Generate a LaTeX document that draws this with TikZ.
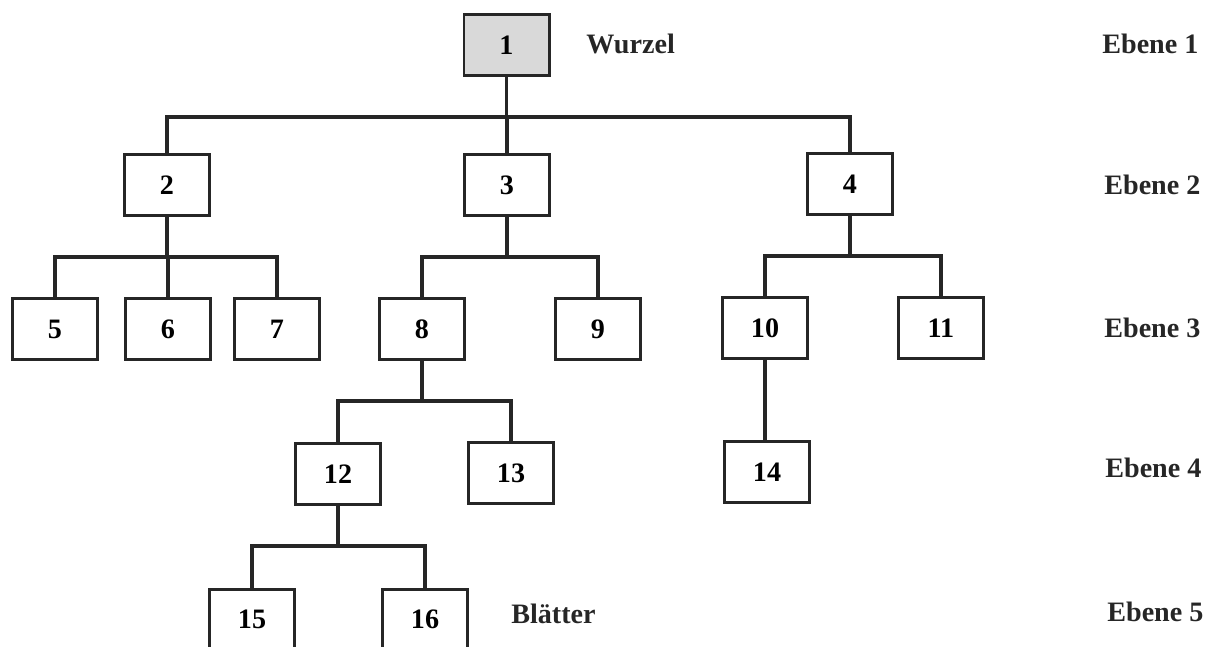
\documentclass[tikz,border=0pt]{standalone}
\usepackage{fontspec}
\setmainfont{Liberation Serif}
\usetikzlibrary{positioning, calc}

\begin{document}
\begin{tikzpicture}[
        treenode/.style={rectangle, draw=black!85, line width=1.7pt, fill=white, minimum width=1.7cm, minimum height=1.22cm, inner sep=0pt, font=\fontsize{16}{19}\selectfont\bfseries},
        rootnode/.style={treenode, fill=black!15},
        link/.style={draw=black!85, line width=1.9pt},
        lbl/.style={anchor=west, inner sep=0pt, font=\fontsize{16}{19}\selectfont\bfseries, text=black!85}
    ]
        \useasboundingbox (0,0) rectangle (24.36,-12.92);
        \clip (0,0) rectangle (24.36,-12.92);
        % Nodes
        \node[rootnode] (n1) at (10.13, -0.90) {1};
        \node[treenode] (n2) at (3.34, -3.70) {2};
        \node[treenode] (n3) at (10.14, -3.70) {3};
        \node[treenode] (n4) at (17.00, -3.68) {4};
        \node[treenode] (n5) at (1.10, -6.58) {5};
        \node[treenode] (n6) at (3.36, -6.58) {6};
        \node[treenode] (n7) at (5.54, -6.58) {7};
        \node[treenode] (n8) at (8.44, -6.58) {8};
        \node[treenode] (n9) at (11.96, -6.58) {9};
        \node[treenode] (n10) at (15.30, -6.56) {10};
        \node[treenode] (n11) at (18.82, -6.56) {11};
        \node[treenode] (n12) at (6.76, -9.48) {12};
        \node[treenode] (n13) at (10.22, -9.46) {13};
        \node[treenode] (n14) at (15.34, -9.44) {14};
        \node[treenode] (n15) at (5.04, -12.39) {15};
        \node[treenode] (n16) at (8.50, -12.39) {16};
        % Labels
        \node[lbl] (wurzel) at (11.72, -0.88) {Wurzel};
        \node[lbl] (blaetter) at (10.22, -12.28) {Blätter};
        \node[lbl] (e1) at (22.04, -0.88) {Ebene 1};
        \node[lbl] (e2) at (22.08, -3.70) {Ebene 2};
        \node[lbl] (e3) at (22.08, -6.56) {Ebene 3};
        \node[lbl] (e4) at (22.10, -9.36) {Ebene 4};
        \node[lbl] (e5) at (22.14, -12.24) {Ebene 5};
        % Connections
        \foreach \p/\c in {n1/n2, n1/n3, n1/n4, n2/n5, n2/n6, n2/n7, n3/n8, n3/n9, n4/n10, n4/n11, n8/n12, n8/n13, n12/n15, n12/n16}
            \draw[link] (\p.south) -- ++(0,-0.8) -| (\c.north);
        \draw[link] (n10.south) -- (n10.south |- n14.north);
    \end{tikzpicture}
\end{document}
